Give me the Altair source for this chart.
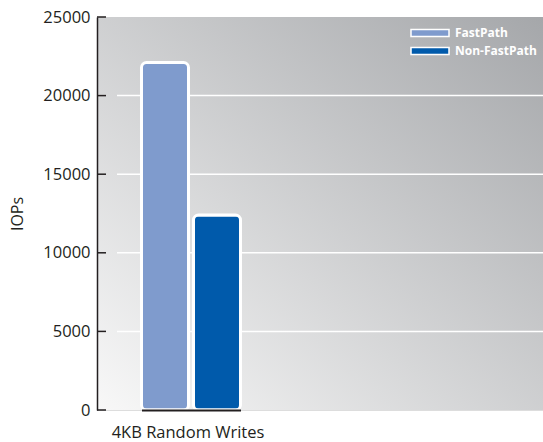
import altair as alt
import pandas as pd

categories = ["4KB Random Writes"]
series = ["FastPath", "Non-FastPath"]
values = [22100, 12400]
tick_values = [0, 5000, 10000, 15000, 20000, 25000]
grid_values = [5000, 10000, 15000, 20000]
colors = ["#7f9bcd", "#005aab"]

W, H = 446, 393
FONT = "Open Sans"
INK = "#231f20"

bars_df = pd.DataFrame({"cat": [categories[0]] * len(series), "series": series, "value": values})
cat_df = pd.DataFrame({"cat": categories})
ticks_df = pd.DataFrame({"v": tick_values})
grid_df = pd.DataFrame({"v": grid_values})
bg_df = pd.DataFrame({"a": [0]})

y_scale = alt.Scale(domain=[0, 25000], nice=False)
x_scale = alt.Scale(domain=categories, range=[44.5, 143.5], paddingInner=0, paddingOuter=0)

y_axis = alt.Axis(values=tick_values, format="d", ticks=False, grid=False, domainColor=INK,
                  domainWidth=1.5, labelPadding=7, titlePadding=17, zindex=1,
                  titleFontSize=16)
x_axis = alt.Axis(labels=False, ticks=False, domainColor=INK, domainWidth=2, title=None, zindex=1)

bg = alt.Chart(bg_df).mark_rect(
    color={
        "gradient": "linear",
        "x1": 0, "y1": 1, "x2": 1, "y2": 0,
        "stops": [
            {"offset": 0, "color": "#f8f8f8"},
            {"offset": 1, "color": "#a5a7aa"},
        ],
    }
).encode(x=alt.value(0), x2=alt.value(W), y=alt.value(0), y2=alt.value(H))

grid = alt.Chart(grid_df).mark_rule(color="white", strokeWidth=1.5).encode(
    x=alt.value(20), x2=alt.value(W),
    y=alt.Y("v:Q", scale=y_scale, axis=y_axis, title="IOPs"),
)

ticks = alt.Chart(ticks_df).mark_rule(color=INK, strokeWidth=1.5).encode(
    x=alt.value(0), x2=alt.value(9),
    y=alt.Y("v:Q", scale=y_scale, axis=y_axis, title="IOPs"),
)

bars = alt.Chart(bars_df).mark_bar(
    stroke="white", strokeWidth=3, cornerRadius=5
).encode(
    x=alt.X("cat:N", title=None, scale=x_scale, axis=x_axis),
    xOffset=alt.XOffset("series:N", sort=series,
                        scale=alt.Scale(domain=series, paddingInner=0.096, paddingOuter=0)),
    y=alt.Y("value:Q", scale=y_scale, title="IOPs", axis=y_axis),
    color=alt.Color("series:N", sort=series,
                    scale=alt.Scale(domain=series, range=colors),
                    legend=alt.Legend(title=None, orient="none", legendX=327, legendY=10,
                                      symbolType="M-4.75,-0.85L4.75,-0.85L4.75,0.85L-4.75,0.85Z",
                                      symbolSize=64, symbolStrokeColor="white", symbolStrokeWidth=1.5,
                                      symbolOpacity=1, labelOffset=19, labelFont=FONT,
                                      labelFontSize=12, labelFontWeight="bold", labelColor="white",
                                      rowPadding=4)),
)

xlabel = alt.Chart(cat_df).mark_text(
    font=FONT, fontSize=16.5, color=INK, baseline="alphabetic", align="center", dx=-3
).encode(
    x=alt.X("cat:N", scale=x_scale, axis=x_axis, title=None),
    y=alt.value(H + 28),
    text="cat:N",
)

chart = alt.layer(bg, grid, ticks, bars, xlabel).properties(
    width=W, height=H,
    padding={"left": 97, "top": 17, "right": 0, "bottom": 32},
    autosize=alt.AutoSizeParams(type="none"),
).configure_view(stroke=None).configure(background="white").configure_axis(
    labelFont=FONT, labelFontSize=16.5, labelColor=INK,
    titleFont=FONT, titleFontSize=16, titleFontWeight="normal", titleColor=INK,
)

chart.save("out.html", embed_options={"renderer": "svg", "actions": False})
